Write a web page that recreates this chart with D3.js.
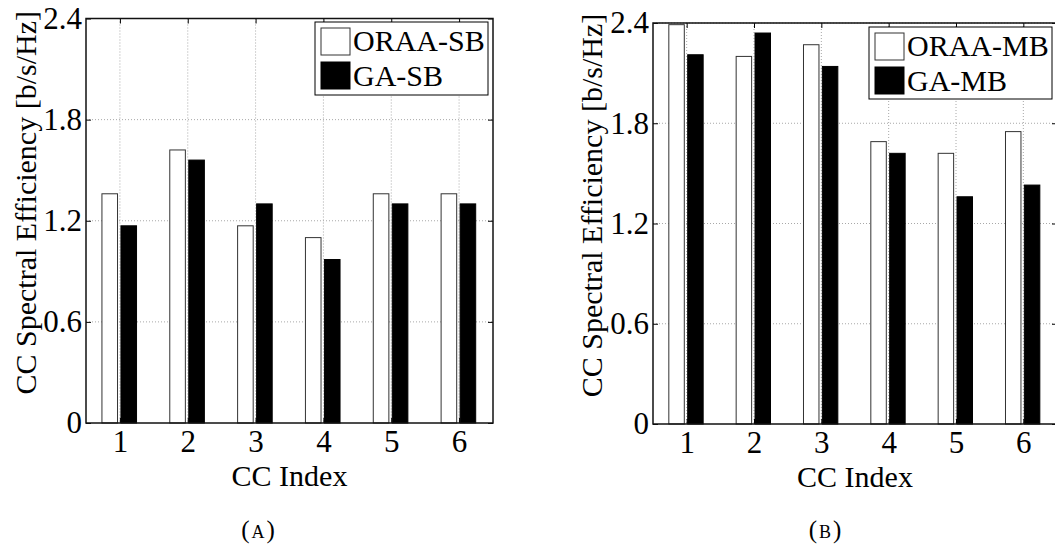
<!DOCTYPE html>
<html>
<head>
<meta charset="utf-8">
<script src="https://cdn.jsdelivr.net/npm/d3@7"></script>
<style>
  body { margin: 0; background: #fff; }
  text { font-family: "Liberation Serif", "Times New Roman", serif; fill: #000; }
</style>
</head>
<body>
<div id="chart"></div>
<script>
// values
const ccIndex = [1, 2, 3, 4, 5, 6];
const oraaSB = [1.36, 1.62, 1.17, 1.10, 1.36, 1.36];
const gaSB = [1.17, 1.56, 1.30, 0.97, 1.30, 1.30];
const oraaMB = [2.39, 2.20, 2.27, 1.69, 1.62, 1.75];
const gaMB = [2.21, 2.34, 2.14, 1.62, 1.36, 1.43];
const yTicks = [0, 0.6, 1.2, 1.8, 2.4];
const yLabel = "CC Spectral Efficiency [b/s/Hz]";
const xLabel = "CC Index";

const width = 1055, height = 545;
const svg = d3.select("#chart").append("svg")
  .attr("width", width).attr("height", height)
  .style("background-color", "white");

function drawPanel(p) {
  const g = svg.append("g");
  const x = d3.scaleLinear().domain([0.5, 6.5]).range([p.left, p.right]);
  const y = d3.scaleLinear().domain([0, 2.4]).range([p.bottom, p.top]);
  // two bars per group, offsets in x-units
  const inner = d3.scaleBand().domain([0, 1]).range([-0.265, 0.245]).paddingInner(0.18);

  // grid
  g.selectAll(".vgrid").data(ccIndex).enter().append("line")
    .attr("x1", d => x(d)).attr("x2", d => x(d))
    .attr("y1", p.top).attr("y2", p.bottom)
    .attr("stroke", "#a8a8a8").attr("stroke-width", 1)
    .attr("stroke-dasharray", "1,2");
  g.selectAll(".hgrid").data(yTicks.slice(1)).enter().append("line")
    .attr("x1", p.left).attr("x2", p.right)
    .attr("y1", d => y(d)).attr("y2", d => y(d))
    .attr("stroke", "#a8a8a8").attr("stroke-width", 1)
    .attr("stroke-dasharray", "1,2");

  // bars
  const series = [
    { vals: p.s1, fill: "#fff", stroke: "#333" },
    { vals: p.s2, fill: "#000", stroke: "#000" }
  ];
  series.forEach((s, si) => {
    g.selectAll(".bar" + si).data(ccIndex).enter().append("rect")
      .attr("x", (d) => x(d + inner(si)))
      .attr("width", (d) => x(d + inner(si) + inner.bandwidth()) - x(d + inner(si)))
      .attr("y", (d, i) => y(s.vals[i]))
      .attr("height", (d, i) => y(0) - y(s.vals[i]))
      .attr("fill", s.fill)
      .attr("stroke", s.stroke)
      .attr("stroke-width", 1);
  });

  // axes, ticks inward on all sides
  const fs = 31;
  const xAxisB = d3.axisBottom(x).tickValues(ccIndex).tickSize(-5).tickFormat(d3.format("d"));
  const xAxisT = d3.axisTop(x).tickValues(ccIndex).tickSize(-5).tickFormat("");
  const yAxisL = d3.axisLeft(y).tickValues(yTicks).tickSize(-5).tickPadding(4)
    .tickFormat(d => d === 0 ? "0" : d3.format(".1f")(d));
  const yAxisR = d3.axisRight(y).tickValues(yTicks).tickSize(-5).tickFormat("");

  const gb = g.append("g").attr("transform", `translate(0,${p.bottom})`).call(xAxisB);
  g.append("g").attr("transform", `translate(0,${p.top})`).call(xAxisT);
  g.append("g").attr("transform", `translate(${p.left},0)`).call(yAxisL);
  g.append("g").attr("transform", `translate(${p.right},0)`).call(yAxisR);
  g.selectAll(".domain").remove();
  g.selectAll(".tick line").attr("stroke", "#000");
  g.selectAll(".tick text").style("font-size", fs + "px")
    .style("font-family", '"Liberation Serif", serif');
  gb.selectAll(".tick text").attr("y", 29).attr("dy", 0);

  // box
  g.append("rect")
    .attr("x", p.left).attr("y", p.top)
    .attr("width", p.right - p.left).attr("height", p.bottom - p.top)
    .attr("fill", "none").attr("stroke", "#111").attr("stroke-width", 1.5);

  // labels
  g.append("text")
    .attr("x", (p.left + p.right) / 2).attr("y", p.bottom + 63)
    .attr("text-anchor", "middle").style("font-size", "30px")
    .text(xLabel);
  g.append("text")
    .attr("transform", `translate(${p.ylabX},${(p.top + p.bottom) / 2 - 18}) rotate(-90)`)
    .attr("text-anchor", "middle").attr("dy", "0.35em").style("font-size", "30px")
    .text(yLabel);

  // legend
  const lg = g.append("g");
  lg.append("rect")
    .attr("x", p.leg.x).attr("y", p.leg.y).attr("width", p.leg.w).attr("height", p.leg.h)
    .attr("fill", "#fff").attr("stroke", "#000").attr("stroke-width", 1);
  p.names.forEach((n, i) => {
    lg.append("rect")
      .attr("x", p.leg.x + 6).attr("y", p.leg.y + 6 + i * 34)
      .attr("width", 29).attr("height", 27)
      .attr("fill", series[i].fill).attr("stroke", series[i].stroke).attr("stroke-width", 1);
    lg.append("text")
      .attr("x", p.leg.x + 38).attr("y", p.leg.y + 29 + i * 35)
      .style("font-size", "30px")
      .text(n);
  });

  // caption
  svg.append("text")
    .attr("x", p.capX).attr("y", 538)
    .attr("text-anchor", "middle")
    .style("font-size", "25px").style("font-variant", "small-caps")
    .style("letter-spacing", "2px")
    .text(p.caption);
}

drawPanel({
  left: 86, right: 493, top: 18.5, bottom: 423,
  s1: oraaSB, s2: gaSB, names: ["ORAA-SB", "GA-SB"],
  leg: { x: 315, y: 22, w: 173, h: 73 },
  ylabX: 25, capX: 259, caption: "(a)"
});
drawPanel({
  left: 653, right: 1057, top: 23, bottom: 424,
  s1: oraaMB, s2: gaMB, names: ["ORAA-MB", "GA-MB"],
  leg: { x: 869, y: 27, w: 183, h: 72 },
  ylabX: 591, capX: 826, caption: "(b)"
});
</script>
</body>
</html>
